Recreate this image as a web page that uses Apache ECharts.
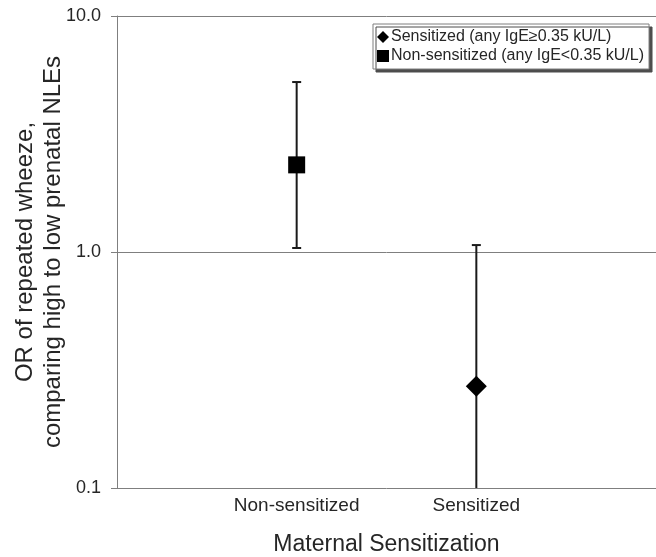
<!DOCTYPE html>
<html><head><meta charset="utf-8">
<script src="https://cdn.jsdelivr.net/npm/echarts@6/dist/echarts.min.js"></script>
<style>html,body{margin:0;padding:0;background:#fff}#c{width:656px;height:557px}</style>
</head><body><div id="c"></div>
<script>
const xLabels = ['Non-sensitized', 'Sensitized'];
const xPos = [1, 2];
const yTicks = [0.1, 1, 10];
const seriesNames = ['Sensitized (any IgE\u22650.35 kU/L)', 'Non-sensitized (any IgE<0.35 kU/L)'];
// Non-sensitized group
const nonSensOR = [2.34];
const nonSensLow = [1.04];
const nonSensHigh = [5.25];
// Sensitized group
const sensOR = [0.27];
const sensLow = [0.07];
const sensHigh = [1.07];

const FONT = 'Liberation Sans, Arial, sans-serif';
const TXT = '#262626';
const chart = echarts.init(document.getElementById('c'));

function errBar(params, api) {
  const x = api.value(0), lo = api.value(1), hi = api.value(2);
  const pLo = api.coord([x, lo]);
  const pHi = api.coord([x, hi]);
  const cap = 4.5;
  const st = { stroke: '#1a1a1a', lineWidth: 2 };
  return {
    type: 'group',
    children: [
      { type: 'line', shape: { x1: pLo[0], y1: pLo[1], x2: pHi[0], y2: pHi[1] }, style: st },
      { type: 'line', shape: { x1: pHi[0] - cap, y1: pHi[1], x2: pHi[0] + cap, y2: pHi[1] }, style: st },
      { type: 'line', shape: { x1: pLo[0] - cap, y1: pLo[1], x2: pLo[0] + cap, y2: pLo[1] }, style: st }
    ]
  };
}

chart.setOption({
  animation: false,
  grid: { left: 117, right: 0, top: 16, bottom: 69, containLabel: false, outerBoundsMode: 'none' },
  legend: {
    orient: 'vertical',
    left: 373, top: 24,
    width: 277,
    padding: [5, 5, 5, 4],
    itemGap: 3,
    itemWidth: 12, itemHeight: 12,
    backgroundColor: '#fff',
    borderColor: '#7f7f7f', borderWidth: 1,
    shadowColor: '#4d4d4d', shadowBlur: 0, shadowOffsetX: 3, shadowOffsetY: 3,
    textStyle: { fontFamily: FONT, fontSize: 16, color: TXT, padding: [0, 0, 0, -3] },
    data: [
      { name: seriesNames[0], icon: 'diamond' },
      { name: seriesNames[1], icon: 'rect' }
    ]
  },
  xAxis: {
    type: 'value', min: 0, max: 3, interval: 1,
    name: 'Maternal Sensitization', nameLocation: 'middle', nameGap: 45,
    nameMoveOverlap: false,
    nameTextStyle: { fontFamily: FONT, fontSize: 23, color: TXT },
    axisLine: { show: false },
    axisTick: { show: false },
    splitLine: { show: false },
    axisLabel: {
      fontFamily: FONT, fontSize: 19, color: TXT, margin: 8,
      formatter: v => { const i = xPos.indexOf(v); return i >= 0 ? xLabels[i] : ''; }
    }
  },
  yAxis: {
    type: 'log', logBase: 10, min: yTicks[0], max: yTicks[yTicks.length - 1],
    name: 'OR of repeated wheeze,\ncomparing high to low prenatal NLEs',
    nameLocation: 'middle', nameGap: 50,
    nameMoveOverlap: false,
    nameTextStyle: { fontFamily: FONT, fontSize: 24, color: TXT, lineHeight: 28 },
    axisLine: { show: true, lineStyle: { color: '#7f7f7f', width: 1 } },
    axisTick: { show: true, length: 6, lineStyle: { color: '#7f7f7f' } },
    splitLine: { show: true, lineStyle: { color: '#7f7f7f', width: 1 } },
    axisLabel: {
      fontFamily: FONT, fontSize: 18, color: TXT, margin: 16,
      formatter: v => Number(v).toFixed(1)
    }
  },
  series: [
    {
      type: 'custom', name: 'errNon', renderItem: errBar, clip: true, silent: true, z: 2,
      encode: { x: 0, y: [1, 2] },
      data: nonSensOR.map((v, i) => [xPos[0], nonSensLow[i], nonSensHigh[i]])
    },
    {
      type: 'custom', name: 'errSens', renderItem: errBar, clip: true, silent: true, z: 2,
      encode: { x: 0, y: [1, 2] },
      data: sensOR.map((v, i) => [xPos[1], sensLow[i], sensHigh[i]])
    },
    {
      type: 'scatter', name: seriesNames[0], symbol: 'diamond', symbolSize: [21, 21], z: 3,
      itemStyle: { color: '#000', opacity: 1 },
      data: sensOR.map(v => [xPos[1], v])
    },
    {
      type: 'scatter', name: seriesNames[1], symbol: 'rect', symbolSize: [17, 17], z: 3,
      itemStyle: { color: '#000', opacity: 1 },
      data: nonSensOR.map(v => [xPos[0], v])
    }
  ]
});
</script></body></html>
